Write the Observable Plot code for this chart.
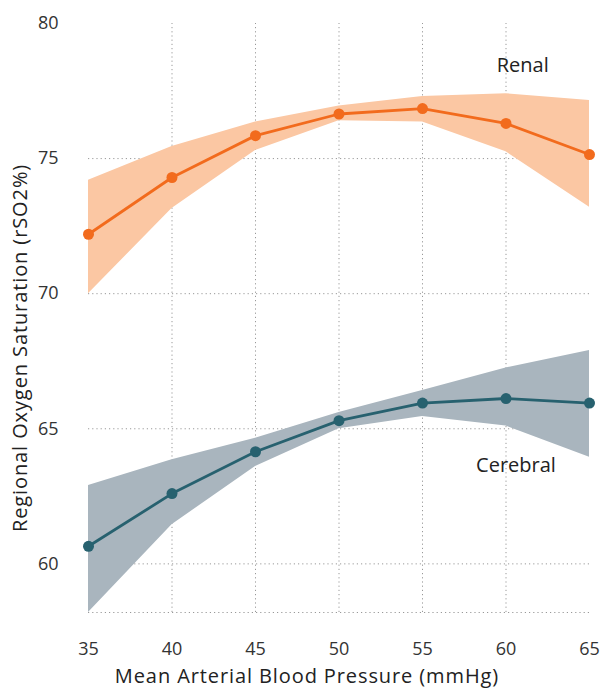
<!DOCTYPE html>
<html>
<head>
<meta charset="utf-8">
<script src="https://cdn.jsdelivr.net/npm/d3@7"></script>
<script src="https://cdn.jsdelivr.net/npm/@observablehq/plot@0.6"></script>
<style>
  html, body { margin: 0; padding: 0; background: #fff; }
  #chart { width: 603px; height: 688px; }
</style>
</head>
<body>
<div id="chart"></div>
<script>
// Mean arterial blood pressure (mmHg)
const pressure = [35, 40, 45, 50, 55, 60, 65];

// Renal rSO2 (%)
const renalMean = [72.2, 74.3, 75.85, 76.65, 76.85, 76.3, 75.15];
const renalLow  = [70.0, 73.15, 75.3, 76.4, 76.35, 75.25, 73.2];
const renalHigh = [74.2, 75.45, 76.35, 76.95, 77.3, 77.4, 77.15];

// Cerebral rSO2 (%)
const cerebralMean = [60.65, 62.6, 64.15, 65.3, 65.95, 66.12, 65.95];
const cerebralLow  = [58.2, 61.45, 63.6, 65.0, 65.45, 65.1, 63.95];
const cerebralHigh = [62.9, 63.85, 64.65, 65.6, 66.42, 67.25, 67.9];

const xTicks = [35, 40, 45, 50, 55, 60, 65];
const yTicks = [60, 65, 70, 75, 80];
const yGrid = [60, 65, 70, 75];
const xGrid = [40, 45, 50, 55, 60];

const seriesLabels = ["Renal", "Cerebral"];
const labelX = [61.0, 60.6];
const labelY = [78.45, 63.65];

const xTitle = "Mean Arterial Blood Pressure (mmHg)";
const yTitle = "Regional Oxygen Saturation (rSO2%)";

const renal = pressure.map((p, i) => ({p, mean: renalMean[i], lo: renalLow[i], hi: renalHigh[i]}));
const cerebral = pressure.map((p, i) => ({p, mean: cerebralMean[i], lo: cerebralLow[i], hi: cerebralHigh[i]}));
const labels = seriesLabels.map((s, i) => ({s, x: labelX[i], y: labelY[i]}));

const yMin = 58.2, yMax = 80;
const font = "'Open Sans', Lato, sans-serif";
const gridStyle = {stroke: "#999", strokeOpacity: 1, strokeWidth: 1, strokeDasharray: "1.2,3"};

const chart = Plot.plot({
  width: 603,
  height: 688,
  marginLeft: 88,
  marginRight: 14,
  marginTop: 23,
  marginBottom: 76,
  style: {fontFamily: font, fontSize: "18px", color: "#333", background: "#fff"},
  x: {domain: [35, 65], ticks: xTicks, tickSize: 0, tickPadding: 30, label: null},
  y: {domain: [yMin, yMax], ticks: yTicks, tickSize: 0, tickPadding: 30, label: null},
  marks: [
    Plot.ruleX(xGrid, {y1: yMin, y2: yMax, ...gridStyle}),
    Plot.ruleY(yGrid, gridStyle),
    Plot.ruleY([yMin], gridStyle),
    Plot.areaY(renal, {x: "p", y1: "lo", y2: "hi", fill: "#fbc7a3", fillOpacity: 1}),
    Plot.areaY(cerebral, {x: "p", y1: "lo", y2: "hi", fill: "#a9b5be", fillOpacity: 1}),
    Plot.lineY(renal, {x: "p", y: "mean", stroke: "#f26b1d", strokeWidth: 2.8}),
    Plot.dot(renal, {x: "p", y: "mean", fill: "#f26b1d", r: 5.5}),
    Plot.lineY(cerebral, {x: "p", y: "mean", stroke: "#27616f", strokeWidth: 2.8}),
    Plot.dot(cerebral, {x: "p", y: "mean", fill: "#27616f", r: 5.5}),
    Plot.text(labels, {x: "x", y: "y", text: "s", fontSize: 20, fill: "#222"}),
    Plot.text([xTitle], {frameAnchor: "bottom", textAnchor: "middle", lineAnchor: "middle", dx: -32, dy: 64, fontSize: 20, fill: "#222"}),
    Plot.text([yTitle], {frameAnchor: "left", textAnchor: "middle", lineAnchor: "middle", dx: -68, dy: 30, rotate: -90, fontSize: 20, fill: "#222"})
  ]
});
chart.querySelectorAll("text").forEach(t => {
  if (t.textContent === xTitle || t.textContent === yTitle) t.style.letterSpacing = "0.9px";
});
document.getElementById("chart").appendChild(chart);
</script>
</body>
</html>
